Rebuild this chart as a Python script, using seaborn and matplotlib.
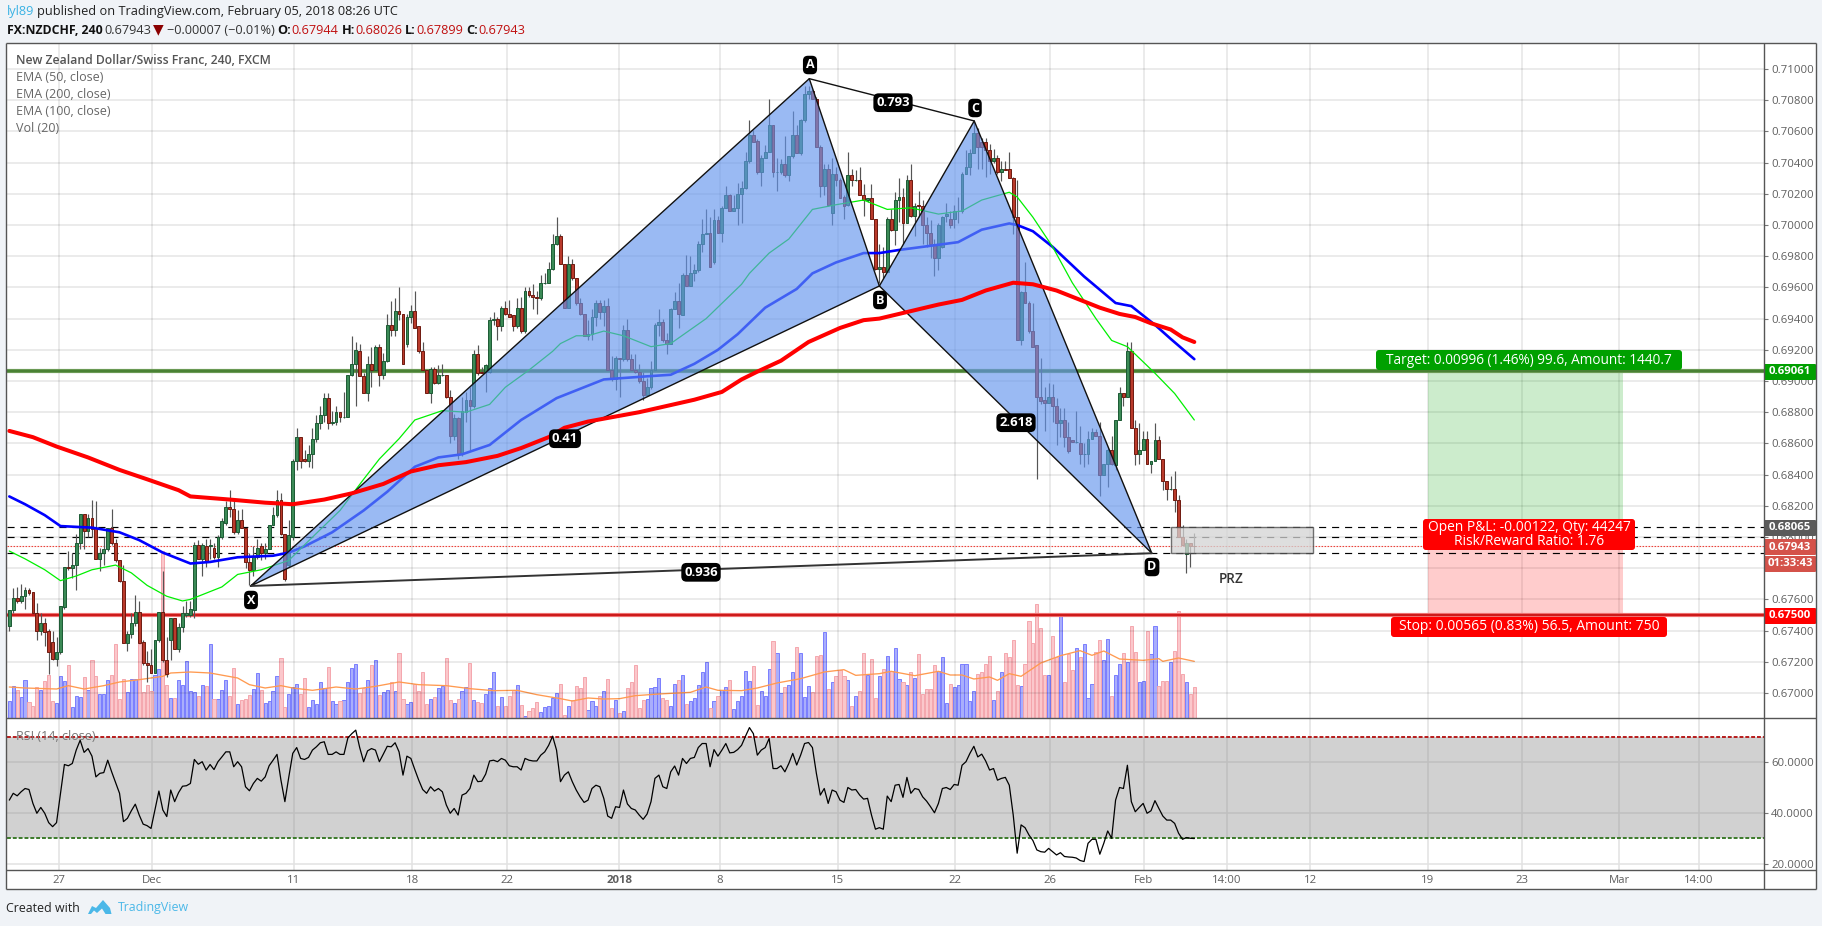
# -*- coding: utf-8 -*-
import numpy as np
import pandas as pd
import matplotlib
matplotlib.use("Agg")
import matplotlib.pyplot as plt
from matplotlib.patches import FancyBboxPatch, Rectangle, Polygon
import seaborn as sns

# candles, prices in 1/10000
opens = [6743,6753,6761,6759,6762,6766,6765,6751,6740,6745,6740,6733,6722,6726,6755,6781,6780,6782,6796,6815,
    6804,6812,6806,6786,6790,6792,6806,6796,6785,6772,6732,6738,6745,6752,6733,6719,6718,6713,6734,6752,
    6721,6734,6748,6728,6742,6750,6750,6753,6795,6786,6794,6794,6793,6787,6800,6809,6819,6818,6803,6811,
    6806,6784,6779,6787,6794,6790,6792,6808,6814,6824,6802,6782,6800,
    6849,6864,6850,6849,6853,6863,6873,6878,6889,6873,6874,6880,6877,6877,6904,6911,6919,6903,6892,6911,
    6907,6922,6904,6913,6936,6933,6945,6943,6924,6941,6945,6935,6919,6907,6892,6908,6899,6904,6904,6890,
    6865,6876,6853,6880,6888,6884,6917,6906,6906,6906,6939,6940,6935,6947,6943,6942,6935,6947,6932,6958,
    6955,6954,6953,6963,6963,6972,6988,6993,6975,6947,6975,6966,6950,6943,6929,
    6930,6941,6950,6944,6948,6907,6901,6915,6914,6933,6914,6907,6906,6900,6891,6896,6907,6936,6938,6926,
    6924,6946,6951,6942,6968,6961,6969,6971,6988,6994,6995,6976,7003,6995,7011,7019,7009,7011,7020,7024,
    7041,7058,7054,7034,7043,7047,7064,7034,7034,7039,7032,7044,7058,7046,7067,7084,7086,7081,7050,7025,
    7036,7008,7033,7029,7018,7013,7032,7029,7029,7019,7016,7017,7004,
    6972,6973,6970,7004,6997,7016,7018,7001,7029,7006,7013,7012,7000,6995,6988,6979,6986,7006,7004,7004,
    7009,7009,7033,7037,7046,7059,7053,7053,7048,7041,7043,7034,7036,7036,7030,7005,
    6926,6957,6950,6932,6923,6890,6888,6886,6890,6884,6873,6875,6864,6862,6861,6860,6853,6853,6863,6867,
    6865,6840,6847,6856,6846,6875,6892,6890,6919,6870,6853,6856,6863,6847,6849,6862,6850,6836,6831,6831,
    6824,6800,6789,6796,6794.4]
closes = [6753,6761,6759,6762,6766,6764,6751,6740,6745,6739,6726,6722,6726,6756,6781,6780,6782,6796,6815,6804,
    6812,6805,6786,6790,6792,6806,6796,6785,6772,6732,6738,6745,6752,6732,6719,6718,6713,6734,6752,6721,
    6712,6748,6728,6742,6751,6751,6754,6795,6786,6795,6784,6795,6787,6800,6810,6819,6818,6803,6811,6806,
    6784,6779,6788,6793,6790,6792,6808,6814,6824,6802,6773,6801,6849,
    6864,6849,6849,6853,6863,6873,6878,6889,6873,6874,6880,6877,6877,6904,6911,6920,6903,6892,6911,6907,
    6922,6904,6913,6936,6933,6945,6943,6911,6941,6945,6934,6919,6907,6892,6908,6899,6904,6904,6890,6865,
    6876,6853,6881,6888,6884,6917,6905,6905,6910,6939,6940,6935,6947,6943,6941,6935,6947,6932,6958,6955,
    6954,6953,6963,6963,6972,6988,6993,6975,6947,6975,6966,6950,6943,6929,6930,
    6941,6950,6944,6948,6907,6901,6915,6914,6933,6914,6907,6906,6900,6891,6896,6907,6936,6938,6926,6924,
    6946,6951,6943,6968,6961,6969,6971,6988,6994,6995,6973,7003,6995,7011,7019,7009,7011,7020,7024,7041,
    7058,7053,7034,7043,7047,7064,7034,7034,7039,7032,7044,7058,7046,7067,7084,7086,7081,7050,7025,7036,
    7013,7033,7029,7017,7012,7032,7029,7029,7019,7016,7017,7004,6972,
    6973,6970,7004,6997,7016,7018,7001,7029,7006,7012,7012,7000,6995,6988,6979,7000,7005,7007,7000,7009,
    7009,7033,7037,7046,7059,7050,7050,7048,7041,7043,7034,7036,7035,7030,7005,6926,
    6957,6950,6932,6922,6890,6887,6886,6890,6884,6873,6875,6864,6855,6861,6861,6853,6853,6863,6867,6865,
    6840,6847,6856,6847,6875,6892,6890,6919,6870,6853,6856,6863,6847,6849,6862,6850,6836,6831,6831,6824,
    6800,6795,6796,6794,6794.3]
highs = [6753,6767,6768,6770,6768,6767,6765,6758,6751,6748,6741,6740,6736,6756,6781,6791,6790,6802,6815,6815,
    6815,6824,6823,6793,6800,6806,6818,6799,6785,6782,6740,6751,6763,6759,6734,6727,6728,6734,6752,6778,
    6736,6748,6748,6745,6756,6759,6759,6797,6798,6796,6799,6799,6796,6801,6812,6823,6830,6824,6817,6818,
    6806,6790,6794,6799,6796,6796,6808,6819,6830,6828,6802,6811,6850,
    6870,6864,6856,6859,6870,6878,6884,6892,6892,6881,6884,6880,6893,6904,6929,6925,6924,6905,6916,6922,
    6923,6924,6918,6943,6951,6953,6960,6943,6943,6949,6958,6935,6925,6907,6909,6909,6910,6911,6904,6894,
    6879,6877,6890,6893,6896,6920,6923,6909,6911,6941,6944,6941,6948,6951,6952,6942,6953,6954,6960,6960,
    6962,6958,6968,6969,6976,6994,7005,6994,6975,6980,6978,6966,6953,6943,6939,
    6946,6952,6952,6952,6953,6916,6916,6915,6936,6940,6917,6917,6911,6906,6902,6913,6937,6946,6940,6931,
    6947,6957,6963,6969,6981,6980,6975,6990,7004,7010,7005,7010,7006,7012,7025,7020,7019,7027,7028,7047,
    7067,7061,7055,7045,7051,7081,7064,7043,7042,7057,7044,7073,7064,7068,7089,7089,7087,7082,7051,7039,
    7039,7043,7037,7030,7019,7047,7036,7035,7037,7026,7017,7026,7004,
    6988,6986,7005,7010,7021,7030,7024,7032,7039,7014,7022,7016,7005,7003,6991,7001,7006,7014,7009,7013,
    7018,7034,7048,7049,7066,7062,7056,7056,7052,7049,7045,7041,7041,7047,7031,7029,
    6958,6976,6951,6950,6923,6915,6896,6899,6898,6889,6883,6883,6874,6862,6881,6871,6860,6868,6870,6869,
    6874,6847,6857,6865,6875,6896,6892,6925,6925,6875,6873,6868,6868,6849,6873,6865,6850,6836,6839,6842,
    6827,6808,6799,6796,6802.6]
lows = [6740,6751,6758,6758,6754,6763,6751,6734,6737,6730,6712,6721,6717,6725,6754,6779,6774,6766,6792,6792,
    6800,6800,6786,6778,6782,6791,6795,6784,6771,6732,6727,6735,6743,6732,6718,6707,6713,6713,6733,6720,
    6710,6721,6728,6726,6739,6749,6749,6748,6786,6775,6781,6786,6786,6781,6799,6808,6813,6802,6802,6806,
    6780,6769,6775,6786,6785,6786,6792,6808,6813,6801,6772,6781,6798,
    6843,6844,6848,6845,6844,6861,6869,6874,6869,6872,6872,6874,6876,6877,6903,6884,6903,6892,6887,6896,
    6907,6897,6901,6912,6929,6929,6939,6911,6922,6937,6934,6918,6907,6892,6886,6898,6898,6903,6889,6860,
    6862,6850,6852,6874,6856,6883,6904,6905,6893,6905,6936,6926,6932,6942,6941,6932,6934,6931,6931,6954,
    6946,6943,6952,6962,6963,6971,6987,6975,6947,6947,6965,6949,6942,6929,6926,
    6926,6935,6940,6935,6907,6900,6894,6890,6913,6913,6907,6905,6899,6888,6891,6895,6907,6929,6925,6917,
    6924,6946,6934,6942,6961,6961,6964,6970,6983,6994,6973,6975,6995,6989,7011,7009,7009,7000,7001,7023,
    7040,7053,7033,7025,7043,7047,7031,7022,7033,7031,7028,7043,7046,7045,7066,7081,7081,7050,7018,7019,
    7012,7000,7025,7017,7004,7012,7025,7028,7019,7006,7015,7004,6971,
    6963,6966,6970,6996,6987,7002,6988,7001,7005,6993,7005,6988,6986,6979,6967,6971,6985,7002,6998,6998,
    7001,7008,7033,7032,7046,7036,7036,7031,7033,7040,7033,7028,7035,7030,6994,6926,
    6923,6950,6931,6922,6837,6885,6868,6886,6874,6859,6864,6858,6854,6861,6860,6847,6845,6847,6863,6865,
    6826,6840,6832,6846,6843,6875,6884,6890,6870,6846,6847,6856,6847,6841,6849,6850,6830,6824,6830,6816,
    6800,6794,6777,6781,6789.9]

volume = [50,95,85,63,115,47,37,93,85,110,130,50,45,127,110,160,33,65,63,123,
    85,175,127,73,73,115,130,223,57,117,77,117,117,223,77,100,80,130,147,500,
    100,60,60,115,100,172,80,77,67,100,95,223,57,57,83,115,67,150,43,55,
    57,70,87,135,83,45,50,80,125,180,33,73,93,103,73,120,33,55,43,108,
    90,153,50,43,50,55,108,150,163,75,90,115,160,173,70,78,83,107,80,195,
    57,43,47,103,80,138,43,58,63,90,97,180,55,45,57,80,92,165,55,47,
    45,73,90,138,37,63,35,67,85,100,40,5,20,30,47,18,33,35,60,75,
    102,10,37,55,95,90,123,23,52,35,67,82,117,30,55,
    15,20,90,107,160,30,55,58,90,93,120,60,55,35,103,115,130,43,50,60,
    100,138,168,30,50,65,85,93,115,27,52,65,142,110,157,40,80,65,148,232,
    195,75,93,100,138,214,195,63,97,79,185,190,259,88,108,127,143,127,115,37,
    65,82,195,130,178,60,125,147,187,140,210,117,107,100,138,120,192,73,87,87,
    160,142,184,45,103,93,100,163,163,50,82,133,137,163,187,55,82,139,195,182,
    235,100,97,163,292,225,343,271,129,129,247,182,307,107,192,143,210,183,223,60,
    103,197,235,175,237,67,130,162,195,169,277,199,108,112,260,193,277,97,111,111,
    167,201,322,133,107,73,93]

rsi = [45.1,47.8,46.8,48.4,49.7,49.3,43.8,39.9,42.2,39.9,36.2,34.6,36.2,47.8,59.2,58.7,59.6,64.9,68.8,64.0,
    65.5,62.5,54.3,55.7,56.0,60.9,56.3,52.0,47.8,36.6,37.9,40.9,43.5,39.2,35.6,35.0,33.9,41.2,48.7,41.2,
    38.6,49.1,44.5,48.1,50.6,50.8,51.7,61.2,59.3,60.3,57.0,59.2,57.2,60.3,62.2,64.2,64.2,58.3,60.3,58.3,
    50.4,48.8,51.7,53.7,52.6,54.3,58.7,60.9,63.2,53.0,44.5,54.3,63.6,65.9,61.6,61.2,62.0,64.9,66.2,67.8,
    68.2,63.2,63.2,64.2,63.2,63.2,69.7,71.4,72.8,65.9,60.3,64.6,65.5,64.9,60.3,63.3,66.4,66.2,67.8,64.2,
    55.0,62.5,61.6,57.2,53.0,49.3,47.8,50.4,48.7,49.7,48.4,43.2,39.9,41.8,39.2,47.1,47.8,49.7,55.0,52.4,
    52.6,55.4,60.6,60.9,60.3,61.6,60.9,58.7,58.3,58.3,57.0,61.6,60.9,60.6,60.6,62.9,64.2,66.8,70.4,64.9,
    52.4,55.0,56.3,52.4,49.1,46.4,44.2,45.1,49.7,51.0,50.4,45.8,38.8,37.9,42.5,
    42.2,49.1,43.6,41.8,41.2,39.2,37.5,39.6,44.5,53.7,55.0,50.4,49.7,56.3,58.6,55.0,61.6,59.6,61.6,62.0,
    65.9,67.5,67.5,58.3,65.1,62.5,64.9,67.5,63.8,64.0,65.1,66.8,70.4,73.8,71.4,62.9,64.9,65.9,69.5,57.6,
    57.6,58.7,56.3,59.6,63.6,59.0,62.9,67.5,67.9,65.9,55.7,47.1,49.7,43.8,49.1,48.4,45.1,44.2,50.1,49.1,
    49.3,47.1,45.5,45.8,39.2,33.6,34.2,33.6,46.7,44.5,51.0,51.3,46.2,54.1,47.8,49.7,49.3,46.4,44.7,42.5,
    40.1,43.8,49.7,50.1,49.3,51.3,51.0,58.9,60.3,63.6,66.4,62.2,63.3,60.6,57.0,57.6,53.0,53.7,54.1,51.0,
    39.2,24.1,35.3,34.2,31.3,29.1,25.4,24.7,24.5,26.0,24.7,23.4,24.3,22.8,22.6,22.5,22.2,21.2,20.8,28.0,
    29.6,29.6,23.7,28.0,32.9,30.0,45.1,50.1,49.7,58.9,44.5,40.5,42.2,43.8,39.9,40.9,44.9,41.8,38.8,37.2,
    37.2,35.9,32.0,29.6,30.3,30.0,29.9]

# moving averages, read at the bends of each line
ema200_i = [0,6,12,20,28,35,43,46,56,65,72,80,87,95,102,109,116,124,130,137,141,147,160,174,181,186,190,196,203,
    211,217,221,236,242,248,255,260,266,273,277,282,286,290,295,298,301]
ema200 = [6868,6864,6858,6851,6843,6837,6830,6826,6824,6822,6821,6824,6828,6834,6842,6846,6848,6852,6857,6864,
    6870,6874,6880,6888,6893,6901,6906,6913,6925,6934,6939,6940,6949,6952,6958,6963,6962,6958,6951,6947,6943,6941,
    6937,6933,6928,6925]
ema100_i = [0,4,9,13,21,28,33,39,46,51,58,67,71,75,82,90,96,103,109,115,122,130,139,147,151,162,168,174,180,185,
    192,200,204,210,217,221,226,235,241,247,254,256,260,265,273,281,285,291,295,301]
ema100 = [6826,6821,6814,6807,6806,6803,6798,6790,6783,6784,6787,6788,6790,6794,6803,6817,6829,6845,6851,6853,
    6859,6875,6889,6897,6901,6903,6904,6911,6920,6930,6947,6959,6969,6976,6982,6982,6984,6987,6989,6997,7001,7000,
    6996,6986,6967,6950,6948,6936,6927,6914]
ema50_i = [0,4,9,13,17,21,27,31,35,40,44,46,50,54,58,64,71,75,84,90,94,99,103,110,116,122,126,132,138,140,144,147,
    151,156,163,168,177,186,188,193,198,204,210,217,223,229,236,242,247,254,256,260,265,270,276,280,284,291,296,301]
ema50 = [6791,6786,6779,6772,6775,6779,6782,6777,6769,6762,6759,6760,6764,6768,6776,6779,6785,6795,6817,6837,
    6850,6863,6875,6881,6880,6885,6896,6907,6919,6924,6929,6929,6932,6929,6922,6924,6940,6962,6969,6982,6991,7010,
    7013,7016,7010,7011,7007,7009,7016,7021,7018,7005,6986,6963,6940,6926,6922,6905,6892,6875]
volma_i = [0,4,12,15,19,24,28,33,39,41,46,51,58,61,65,69,72,77,83,88,93,99,104,111,117,123,129,134,140,143,147,151,
    155,159,165,173,177,180,186,190,195,201,207,212,215,221,224,230,236,239,242,245,249,251,254,257,262,267,272,
    275,278,282,288,292,293,297,301]
volma = [93,90,87,97,87,97,108,115,125,135,138,135,120,100,90,97,90,83,93,87,95,108,100,97,88,82,83,70,58,51,60,57,
    58,67,72,77,93,83,82,90,105,118,138,145,128,133,140,127,140,129,129,117,123,113,133,125,165,187,202,188,201,
    177,173,178,170,180,170]

# harmonic pattern points X A B C D
pat_i = [61.3,203.2,221.0,245.1,290.2]
pat_price = [6768.6,7093.8,6960.9,7066.7,6789.6]

target_price = 0.69061
entry_price = 0.68065
stop_price = 0.675
last_price = 0.67943
dash_levels = [0.68065,0.68,0.67896]
prz_low, prz_high = 0.67896,0.68065
pos_left, pos_right = 360.3,409.8
prz_left, prz_right = 295.2,331.1

price_ticks = np.arange(0.670,0.7101,0.002)
rsi_ticks = [20,40,60]
time_pos = [12.5,36.2,72.3,102.4,126.3,154.9,180.4,210.4,240.2,264.3,288.2,309.3,330.4,360.3,384.2,408.9,429.2]
time_labels = ['27','Dec','11','18','22','2018','8','15','22','26','Feb','14:00','12','19','23','Mar','14:00']

W, H = 1822, 926
LEFT, RIGHT = 6.7, 1764
TOP, SPLIT, BOT = 43, 718, 870

sns.set_theme(style='white')
plt.rcParams['font.family'] = ['Open Sans','DejaVu Sans']

idx = np.arange(len(closes))
o = np.array(opens)/10000
c = np.array(closes)/10000
hi = np.array(highs)/10000
lo = np.array(lows)/10000

fig = plt.figure(figsize=(W/100,H/100), dpi=100, facecolor='#F0F3F7')

def box(l,t,r,b):
    return [l/W,1-b/H,(r-l)/W,(b-t)/H]

bg = fig.add_axes([0,0,1,1], zorder=0)
bg.set_xlim(0,W); bg.set_ylim(H,0); bg.axis('off')
bg.add_patch(Rectangle((6,43),1810,846,fc='white',ec='none'))

# volume sits under the price axes
axv = fig.add_axes(box(LEFT,TOP,RIGHT,SPLIT), zorder=1, facecolor='white')
ax = fig.add_axes(box(LEFT,TOP,RIGHT,SPLIT), zorder=2, facecolor='none')
axr = fig.add_axes(box(LEFT,SPLIT,RIGHT,BOT), zorder=2, facecolor='white')

vol_df = pd.DataFrame({'i':idx,'vol':volume,'up':c>=o})
sns.barplot(data=vol_df[vol_df.up], x='i', y='vol', native_scale=True, color='#A9AEFC', edgecolor='#7478FF',
            linewidth=0.65, width=0.8, errorbar=None, saturation=1, ax=axv)
sns.barplot(data=vol_df[~vol_df.up], x='i', y='vol', native_scale=True, color='#FBC7CB', edgecolor='#F4A3AA',
            linewidth=0.65, width=0.8, errorbar=None, saturation=1, ax=axv)
sns.lineplot(x=volma_i, y=volma, color='#FF9A50', linewidth=0.95, ax=axv)
axv.set_ylim(0,2025)
axv.set_xlim(-0.66,445.7)
axv.set_xlabel(''); axv.set_ylabel('')
axv.set_xticks([]); axv.set_yticks([])
for s in axv.spines.values():
    s.set_visible(False)

# grid and levels
ax.set_xticks(time_pos)
ax.set_yticks(price_ticks)
ax.grid(True, color='black', alpha=0.1, linewidth=1.1, zorder=0)
ax.set_axisbelow(True)

ax.axhline(target_price, color='#6B9A55', linewidth=3, zorder=2)
ax.axhline(target_price, color='#3F7A2A', linewidth=1.1, zorder=2)
ax.axhline(stop_price, color='#EE7070', linewidth=3, zorder=2)
ax.axhline(stop_price, color='#C40000', linewidth=1.1, zorder=2)
for lv in dash_levels:
    ax.axhline(lv, color='black', linewidth=0.85, dashes=(6,5), zorder=2)
ax.axhline(last_price, color='#E8453C', linewidth=0.8, dashes=(1.5,1.2), zorder=2)

ax.add_patch(Rectangle((pos_left,entry_price),pos_right-pos_left,target_price-entry_price,fc='#00A000',alpha=0.2,ec='none',zorder=1.5))
ax.add_patch(Rectangle((pos_left,stop_price),pos_right-pos_left,entry_price-stop_price,fc='#FF0000',alpha=0.2,ec='none',zorder=1.5))

# candles
up = c>=o
ax.vlines(idx, lo, hi, color='#555555', linewidth=0.85, zorder=3)
ax.bar(idx[up], (c-o)[up], bottom=o[up], width=0.72, color='#3B8A56', edgecolor='#1C5A34', linewidth=0.7, zorder=3.2)
ax.bar(idx[~up], (o-c)[~up], bottom=c[~up], width=0.72, color='#B93A2B', edgecolor='#6E1A10', linewidth=0.7, zorder=3.2)

# the red ema stays bright over the pattern, blue and green get tinted by it
sns.lineplot(x=ema200_i, y=np.array(ema200)/10000, color='#FF0000', linewidth=2.9, zorder=6.5, ax=ax)
sns.lineplot(x=ema100_i, y=np.array(ema100)/10000, color='#0000FF', linewidth=1.9, zorder=4, ax=ax)
sns.lineplot(x=ema50_i, y=np.array(ema50)/10000, color='#00F000', linewidth=0.9, zorder=4, ax=ax)

# pattern
pp = np.array(pat_price)/10000
ax.fill([pat_i[0],pat_i[1],pat_i[2]],[pp[0],pp[1],pp[2]], color='#6495ED', alpha=0.65, linewidth=0, zorder=5)
ax.fill([pat_i[2],pat_i[3],pat_i[4]],[pp[2],pp[3],pp[4]], color='#6495ED', alpha=0.65, linewidth=0, zorder=5)
ax.plot([pat_i[0],pat_i[1],pat_i[2],pat_i[0]],[pp[0],pp[1],pp[2],pp[0]], color='#111111', linewidth=1, zorder=6)
ax.plot([pat_i[2],pat_i[3],pat_i[4],pat_i[2]],[pp[2],pp[3],pp[4],pp[2]], color='#111111', linewidth=1, zorder=6)
ax.plot([pat_i[1],pat_i[3]],[pp[1],pp[3]], color='#111111', linewidth=1, zorder=6)
ax.plot([pat_i[0],pat_i[4]],[pp[0],pp[4]], color='#333333', linewidth=1.4, zorder=6)

ax.add_patch(Rectangle((prz_left,prz_low),prz_right-prz_left,prz_high-prz_low,fc='#D4D4D4',alpha=0.75,ec='#444444',lw=1,zorder=7))

ax.set_xlim(-0.66,445.7)
ax.set_ylim(0.668397,0.711667)
ax.set_xlabel(''); ax.set_ylabel('')
ax.yaxis.tick_right()
ax.set_yticklabels(['%.5f' % p for p in price_ticks])
ax.tick_params(axis='y', length=3, width=0.8, color='#777777', labelcolor='#5F5F5F', labelsize=8.2, pad=2)
ax.tick_params(axis='x', length=0, labelbottom=False)
for s in ax.spines.values():
    s.set_visible(False)

# rsi panel
axr.set_xticks(time_pos)
axr.set_xticklabels(time_labels)
axr.set_yticks(rsi_ticks)
axr.set_yticklabels(['%.4f' % v for v in rsi_ticks])
axr.grid(True, color='#E2E2E2', linewidth=1.1)
axr.set_axisbelow(True)
axr.axhspan(30,70, color='#8C8C8C', alpha=0.4, linewidth=0, zorder=1)
axr.axhline(70, color='#B71C1C', linewidth=1.4, dashes=(2,1), zorder=2)
axr.axhline(30, color='#3B7A2A', linewidth=1.4, dashes=(2,1), zorder=2)
sns.lineplot(x=idx, y=rsi, color='black', linewidth=0.9, zorder=3, ax=axr)
axr.set_xlim(-0.66,445.7)
axr.set_ylim(17.45,77.6)
axr.set_xlabel(''); axr.set_ylabel('')
axr.yaxis.tick_right()
axr.tick_params(axis='y', length=3, width=0.8, color='#777777', labelcolor='#5F5F5F', labelsize=8.2, pad=2)
axr.tick_params(axis='x', length=0, labelcolor='#5F5F5F', labelsize=8.2, pad=3.5)
for lab in axr.get_xticklabels():
    if lab.get_text() == '2018':
        lab.set_fontweight('bold')
for s in axr.spines.values():
    s.set_visible(False)

# overlay in pixels for the frame, tags and notes
top = fig.add_axes([0,0,1,1], zorder=10, facecolor='none')
top.set_xlim(0,W); top.set_ylim(H,0); top.axis('off')

for xs,ys in [((6,1815.7),(43,43)),((6,1815.7),(718,718)),((6,1815.7),(870,870)),((6,1815.7),(889,889)),
              ((6,6),(43,889)),((1764,1764),(43,889)),((1815.7,1815.7),(43,889))]:
    top.plot(xs,ys,color='#555555',linewidth=1,solid_capstyle='butt')

def tag(x0,y0,x1,y1,col,txt,fs=8.2,r=1.0,weight='bold'):
    top.add_patch(FancyBboxPatch((x0,y0),x1-x0,y1-y0,boxstyle='round,pad=0,rounding_size=%s' % r,fc=col,ec='none'))
    top.text((x0+x1)/2,(y0+y1)/2,txt,color='white',fontsize=fs,ha='center',va='center',fontweight=weight,linespacing=0.9)

tag(1764,364,1816,380,'#00A000','0.69061')
tag(1764,520,1816,536,'#5A5A5A','0.68065')
tag(1764,539,1816,555,'#D4524A','0.67943')
tag(1764,556,1816,572,'#D4524A','01:33:43')
tag(1764,608,1816,624,'#FF0000','0.67500')
tag(1376,350,1682,370,'#00A000','Target: 0.00996 (1.46%) 99.6, Amount: 1440.7',fs=9.8,r=3,weight='normal')
tag(1391,617,1667,637,'#FF0000','Stop: 0.00565 (0.83%) 56.5, Amount: 750',fs=10,r=3,weight='normal')
tag(1423,519,1635,550,'#FF0000','Open P&L: -0.00122, Qty: 44247\nRisk/Reward Ratio: 1.76',fs=9.9,r=3,weight='normal')

def note(x,y,txt,fs=9.4):
    top.text(x,y,txt,color='white',fontsize=fs,ha='center',va='center',fontweight='bold',
             bbox=dict(boxstyle='round,pad=0.22,rounding_size=0.4',fc='black',ec='none'))

for x,y,t in [(810,65,'A'),(975,108,'C'),(880,300,'B'),(251,600,'X'),(1152,567,'D')]:
    note(x,y,t,fs=9)
for x,y,t in [(893,102.7,'0.793'),(565,438.7,'0.41'),(1016,422.7,'2.618'),(701,572.3,'0.936')]:
    note(x,y,t)
top.text(1231,579,'PRZ',color='#333333',fontsize=9.8,ha='center',va='center',fontweight='semibold')

# header
top.text(6.7,11.6,'lyl89',color='#3BB3E4',fontsize=9.2,va='center')
top.text(36.6,11.6,'published on TradingView.com, February 05, 2018 08:26 UTC',color='#222222',fontsize=9.2,va='center')
top.text(6.7,30,'FX:NZDCHF, 240',color='#111111',fontsize=8.8,va='center',fontweight='bold')
top.text(104,30,'0.67943',color='#333333',fontsize=9.2,va='center')
top.text(153,30,'▼',color='#8B0000',fontsize=10,va='center')
top.text(167,30,'−0.00007 (−0.01%)',color='#333333',fontsize=9.2,va='center')
for x,t in [(277,'O:'),(341.5,'H:'),(405,'L:'),(466,'C:')]:
    top.text(x,30,t,color='#111111',fontsize=9.2,va='center',fontweight='bold')
for x,t in [(291,'0.67944'),(355,'0.68026'),(416,'0.67899'),(478,'0.67943')]:
    top.text(x,30,t,color='#C01010',fontsize=9.2,va='center')

# study legend
top.text(15.6,60,'New Zealand Dollar/Swiss Franc, 240, FXCM',color='#555555',fontsize=8.8,va='center',fontweight='semibold')
for y,t in [(77.3,'EMA (50, close)'),(94.7,'EMA (200, close)'),(111.7,'EMA (100, close)'),(128.7,'Vol (20)')]:
    top.text(15.6,y,t,color='#666666',fontsize=9.0,va='center')
top.text(16,736.5,'RSI (14, close)',color='#777777',fontsize=9.0,va='center')

# footer
top.text(6,908,'Created with',color='#222222',fontsize=8.9,va='center')
top.add_patch(Polygon([(88,914),(92,906),(96,908),(103,900),(110,908),(111.5,914),(105.5,914),(102,908.5),(97,913),(94,910.5),(91,914)],fc='#4BB8E8',ec='none'))
top.text(118,908,'TradingView',color='#4BB8E8',fontsize=8.9,va='center')

fig.savefig('out.png', dpi=100, facecolor=fig.get_facecolor())
